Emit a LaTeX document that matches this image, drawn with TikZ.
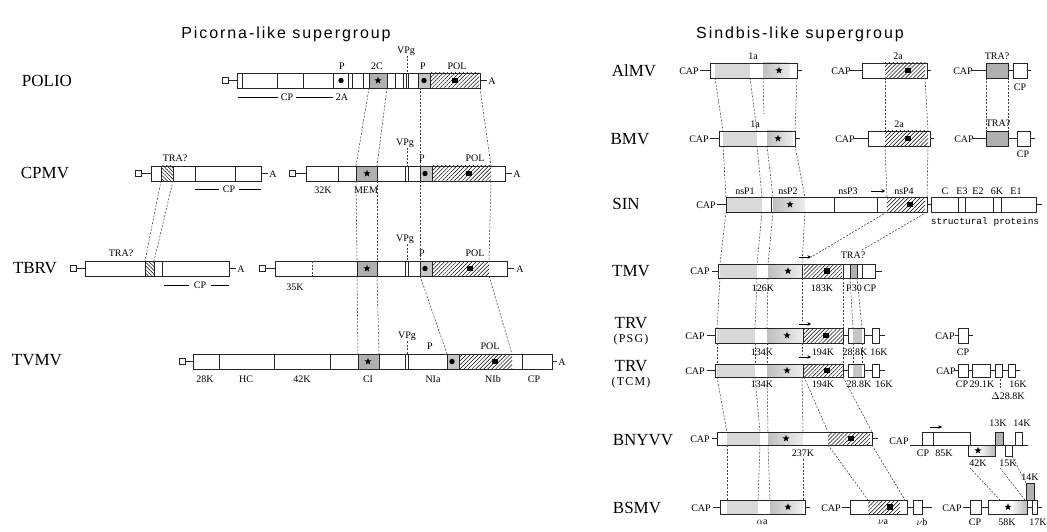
\documentclass[tikz,border=0pt]{standalone}
\usepackage{fontspec}
\setmainfont{Liberation Serif}
\setsansfont{Liberation Sans}
\setmonofont{Liberation Mono}
\usetikzlibrary{patterns.meta,shapes.geometric,arrows.meta}
\newcounter{tn}
\newcounter{cnn}
\newcommand\lb[3]{\stepcounter{tn}\node[lbl] (t\thetn) at (#1,#2) {#3};}
\newcommand\nm[3]{\stepcounter{tn}\node[nmf] (t\thetn) at (#1,#2) {#3};}
\newcommand\hl[3]{\draw[gb] (#1,#3)--(#2,#3);}
\newcommand\bx[4]{\draw[gb] (#1,#3) rectangle (#2,#4);}
\newcommand\vls[3]{\foreach \xx in {#3} {\draw[gb] (\xx,#1)--(\xx,#2);}}
\newcommand\fr[5]{\fill[#1] (#2,#4) rectangle (#3,#5);}
\newcommand\cs[2]{\draw[gb,fill=white] (#1-3,#2-3) rectangle (#1+3,#2+3);}
\newcommand\bd[2]{\fill (#1,#2) circle (2.7);}
\newcommand\bs[2]{\fill (#1-2.7,#2-2.7) rectangle (#1+2.7,#2+2.7);}
\newcommand\st[2]{\stepcounter{tn}\node[star,star points=5,star point ratio=2.4,fill=black,inner sep=0pt,minimum size=7.5pt] (t\thetn) at (#1,#2) {};}
\newcommand\cn[2]{\stepcounter{cnn}\coordinate (cs\thecnn) at (#1);\coordinate (ce\thecnn) at (#2);\draw[conn] (cs\thecnn) -- (ce\thecnn);}
\newcommand\arr[3]{\stepcounter{cnn}\coordinate (as\thecnn) at (#1,#3);\coordinate (ae\thecnn) at (#2,#3);\draw[line width=0.7pt,-{Stealth[length=3.5pt,width=3.5pt]}] (as\thecnn)--(ae\thecnn);}
\begin{document}
\begin{tikzpicture}[x=1pt,y=-1pt,
 gb/.style={draw=black!85,line width=0.7pt},
 conn/.style={draw=black!75,line width=0.55pt,dash pattern=on 2pt off 1.5pt},
 lbl/.style={font=\fontsize{10}{11}\selectfont,inner sep=0pt},
 nmf/.style={font=\fontsize{17}{18}\selectfont,inner sep=0pt},
 ttl/.style={font=\sffamily\fontsize{16}{18}\selectfont\addfontfeature{LetterSpace=12},inner sep=0pt},
 hatch/.style={pattern={Lines[angle=45,distance=2.8pt,line width=0.5pt]}},
 bhatch/.style={pattern={Lines[angle=-45,distance=2.6pt,line width=0.5pt]}},
 dkf/.style={fill=gray!62}, mdf/.style={fill=gray!45}, ltf/.style={fill=gray!30},
 grf/.style={left color=gray!50,right color=gray!14},
 rgf/.style={left color=white,right color=gray!55}]
\useasboundingbox (0,0) rectangle (1047,532);
% titles
\node[ttl] (title1) at (286,34) {Picorna-like supergroup};
\node[ttl] (title2) at (800,34) {Sindbis-like supergroup};
%================ LEFT ================
% POLIO
\nm{47}{81}{POLIO}
\cs{225}{80.5}\hl{228}{237}{80.5}
\fr{dkf}{369}{387}{73}{88}\fr{mdf}{418}{430}{73}{88}\fr{hatch}{430}{479}{73}{88}
\bx{237}{480}{73}{88}
\vls{73}{88}{242,277,303,333,348,352,363,369,387,395,403,406,408,418,430}
\bd{341}{80.5}\st{378}{80.5}\bd{424}{80.5}\bs{455}{80.5}
\hl{480}{487}{80.5}\lb{492}{81}{A}
\lb{342}{66}{P}\lb{377}{66}{2C}\lb{423}{66}{P}\lb{457}{66}{POL}\lb{406}{51}{VPg}
\cn{407,56}{407,73}
\draw[line width=0.6pt] (238,97)--(278,97);\lb{287}{97}{CP}\draw[line width=0.6pt] (296,97)--(333,97);\lb{342}{97}{2A}
% CPMV
\nm{45}{173}{CPMV}
\cs{138.5}{173.5}\hl{141.5}{151}{173.5}
\fr{bhatch}{161}{173}{166}{181}
\bx{151}{261}{166}{181}
\vls{166}{181}{161,173,195,235}
\hl{261}{268}{173.5}\lb{273}{174}{A}
\lb{175}{158}{TRA?}
\draw[line width=0.6pt] (195,189)--(219,189);\lb{229}{189}{CP}\draw[line width=0.6pt] (239,189)--(261,189);
\cs{292}{173.5}\hl{295}{306}{173.5}
\fr{dkf}{356}{377}{166}{181}\fr{mdf}{420}{432}{166}{181}\fr{hatch}{432}{491}{166}{181}
\bx{306}{505}{166}{181}
\vls{166}{181}{338,356,377,405,408,420,432}
\st{367}{173.5}\bd{425}{173.5}\bs{469}{173.5}
\hl{505}{512}{173.5}\lb{517}{174}{A}
\lb{323}{190}{32K}\lb{366}{190}{MEM}\lb{405}{143}{VPg}\cn{407,148}{407,166}\lb{422}{158}{P}\lb{475}{158}{POL}
% TBRV
\nm{35}{268}{TBRV}
\cs{73}{268.5}\hl{76}{85}{268.5}
\fr{bhatch}{145}{154}{261}{276}
\bx{85}{229}{261}{276}
\vls{261}{276}{145,154,162.5}
\hl{229}{236}{268.5}\lb{241}{269}{A}
\lb{121}{253}{TRA?}
\draw[line width=0.6pt] (164,285)--(189,285);\lb{200}{285}{CP}\draw[line width=0.6pt] (211,285)--(229,285);
\cs{262}{268.5}\hl{265}{275}{268.5}
\fr{dkf}{357}{377}{261}{276}\fr{mdf}{420}{432}{261}{276}\fr{hatch}{432}{489}{261}{276}
\bx{275}{507}{261}{276}
\cn{312,261}{312,276}
\vls{261}{276}{357,377,405,408,420,432}
\st{367}{268.5}\bd{425}{268.5}\bs{470}{268.5}
\hl{507}{514}{268.5}\lb{520}{269}{A}
\lb{295}{287}{35K}\lb{405}{239}{VPg}\cn{407,244}{407,261}\lb{422}{253}{P}\lb{475}{253}{POL}
% TVMV
\nm{37}{360}{TVMV}
\cs{182}{361.5}\hl{185}{193}{361.5}
\fr{dkf}{358}{379}{354}{369}\fr{mdf}{447}{459}{354}{369}\fr{hatch}{459}{512}{354}{369}
\bx{193}{552}{354}{369}
\vls{354}{369}{219,274,330,358,379,405,408,447,459,522}
\st{368}{361.5}\bd{452}{361.5}\bs{495}{361.5}
\hl{552}{557}{361.5}\lb{562}{362}{A}
\lb{205}{379}{28K}\lb{246}{379}{HC}\lb{302}{379}{42K}\lb{368}{379}{CI}\lb{433}{379}{NIa}\lb{493}{379}{NIb}\lb{534}{379}{CP}
\lb{407}{336}{VPg}\cn{407,341}{407,354}\lb{430}{346}{P}\lb{490}{346}{POL}
% left connectors
\cn{369,88}{356,166}\cn{387,88}{377,166}\cn{420,88}{420,166}\cn{480,88}{491,166}
\cn{161,181}{145,261}\cn{173,181}{154,261}\cn{356,181}{357,261}\cn{377,181}{377,261}\cn{420,181}{420,261}\cn{491,181}{489,261}
\cn{357,276}{358,354}\cn{377,276}{379,354}\cn{420,276}{447,354}\cn{489,276}{512,354}
%================ RIGHT ================
% AlMV
\nm{634}{71}{AlMV}
\lb{689}{71}{CAP}\hl{700}{710}{70.5}
\fr{ltf}{715}{750}{63}{78}\fr{grf}{763}{790}{63}{78}
\bx{710}{797}{63}{78}\st{779}{70.5}\hl{797}{802}{70.5}\lb{753}{56}{1a}
\lb{841}{71}{CAP}\hl{850}{862}{70.5}
\fr{hatch}{885}{925}{63}{78}\bx{862}{927}{63}{78}\bs{908}{70.5}\hl{927}{931}{70.5}\lb{898}{56}{2a}
\lb{963}{71}{CAP}\hl{972}{986}{70.5}
\fr{dkf}{986}{1008}{63}{78}\bx{986}{1008}{63}{78}\hl{1008}{1013}{70.5}\bx{1013}{1027}{63}{78}\hl{1027}{1031}{70.5}
\lb{997}{56}{TRA?}\lb{1020}{87}{CP}
% BMV
\nm{630}{139}{BMV}
\lb{699}{139}{CAP}\hl{710}{719}{138.5}
\fr{ltf}{723}{757}{131}{146}\fr{grf}{767}{793}{131}{146}
\bx{719}{795}{131}{146}\st{778}{138.5}\hl{795}{800}{138.5}\lb{755}{124}{1a}
\lb{845}{139}{CAP}\hl{853}{868}{138.5}
\fr{hatch}{885}{928}{131}{146}\bx{868}{930}{131}{146}\bs{908}{138.5}\hl{930}{934}{138.5}\lb{899}{124}{2a}
\lb{964}{139}{CAP}\hl{973}{986}{138.5}
\fr{dkf}{986}{1008}{131}{146}\bx{986}{1008}{131}{146}\hl{1008}{1017}{138.5}\bx{1017}{1030}{131}{146}\hl{1030}{1035}{138.5}
\lb{998}{123}{TRA?}\lb{1023}{154}{CP}
% SIN
\nm{626}{204}{SIN}
\lb{706}{205}{CAP}\hl{717}{726}{204.5}
\fr{ltf}{726}{762}{197}{212}\fr{grf}{773}{805}{197}{212}\fr{hatch}{887}{925}{197}{212}
\bx{726}{927}{197}{212}
\vls{197}{212}{771,834,877}
\st{790}{204.5}\bs{910}{204.5}
\hl{927}{931}{204.5}\bx{931}{1036}{197}{212}\vls{197}{212}{958,965,993,1001}\hl{1036}{1042}{204.5}
\lb{745}{191}{nsP1}\lb{788}{191}{nsP2}\lb{848}{191}{nsP3}\arr{871}{885}{191}\lb{904}{191}{nsP4}
\lb{945}{191}{C}\lb{962}{191}{E3}\lb{978}{191}{E2}\lb{997}{191}{6K}\lb{1016}{191}{E1}
\stepcounter{tn}\node[lbl,font=\ttfamily\fontsize{9.5}{10}\selectfont] (t\thetn) at (985,222) {structural proteins};
% TMV
\nm{631}{271}{TMV}
\lb{700}{271}{CAP}\hl{712}{718}{271}
\fr{ltf}{720}{757}{264}{278}\fr{grf}{768}{802}{264}{278}\fr{hatch}{804}{842}{264}{278}\fr{dkf}{850}{857}{264}{278}
\bx{718}{875}{264}{278}
\vls{264}{278}{802,843,850,857,862}
\st{788}{271}\bs{827}{271}\hl{875}{882}{271}
\arr{799}{811}{257}
\lb{763}{288}{126K}\lb{822}{288}{183K}\lb{854}{288}{P30}\lb{870}{288}{CP}\lb{853}{255}{TRA?}
% TRV (PSG)
\nm{631}{323}{TRV}
\stepcounter{tn}\node[nmf,font=\fontsize{12}{13}\selectfont\addfontfeature{LetterSpace=10}] (t\thetn) at (631,340) {(PSG)};
\lb{695}{336}{CAP}\hl{707}{715}{335.5}
\fr{ltf}{717}{755}{328}{343}\fr{grf}{767}{803}{328}{343}\fr{hatch}{804}{843}{328}{343}
\bx{715}{843}{328}{343}\vls{328}{343}{803}
\st{787}{335.5}\bs{826}{335.5}
\hl{843}{848}{335.5}\fr{mdf}{853}{862}{328}{343}\bx{848}{864}{328}{343}\hl{864}{872}{335.5}\bx{872}{879}{328}{343}\hl{879}{885}{335.5}
\arr{799}{811}{324}
\lb{762}{352}{134K}\lb{823}{352}{194K}\lb{855}{352}{28.8K}\lb{879}{352}{16K}
\lb{945}{336}{CAP}\hl{955}{958}{335.5}\bx{958}{968}{328}{343}\hl{968}{973}{335.5}\lb{963}{352}{CP}
% TRV (TCM)
\nm{631}{366}{TRV}
\stepcounter{tn}\node[nmf,font=\fontsize{12}{13}\selectfont\addfontfeature{LetterSpace=10}] (t\thetn) at (631,383) {(TCM)};
\lb{695}{371}{CAP}\hl{707}{715}{370.5}
\fr{ltf}{717}{755}{364}{377}\fr{grf}{767}{803}{364}{377}\fr{hatch}{804}{843}{364}{377}
\bx{715}{843}{364}{377}\vls{364}{377}{803}
\st{787}{370.5}\bs{827}{370.5}
\hl{843}{848}{370.5}\fr{mdf}{853}{862}{364}{377}\bx{848}{864}{364}{377}\hl{864}{872}{370.5}\bx{872}{879}{364}{377}\hl{879}{885}{370.5}
\arr{799}{811}{357}
\lb{762}{384}{134K}\lb{823}{384}{194K}\lb{859}{384}{28.8K}\lb{884}{384}{16K}
\lb{946}{371}{CAP}\hl{955}{958}{370.5}\bx{958}{968}{364}{377}\hl{968}{972}{370.5}\bx{972}{990}{364}{377}\hl{990}{995}{370.5}\bx{995}{1002}{364}{377}\hl{1002}{1008}{370.5}\bx{1008}{1015}{364}{377}\hl{1015}{1020}{370.5}
\lb{962}{384}{CP}\lb{982}{384}{29.1K}\cn{1000,379}{1000,389}\lb{1018}{384}{16K}\lb{1008}{396}{$\Delta$28.8K}
% BNYVV
\nm{643}{440}{BNYVV}
\lb{700}{439}{CAP}\hl{712}{717}{438.5}
\fr{ltf}{727}{760}{432}{445}\fr{grf}{768}{803}{432}{445}\fr{hatch}{828}{870}{432}{445}
\bx{717}{872}{432}{445}\st{786}{438.5}\bs{851}{438.5}\hl{872}{878}{438.5}
\lb{803}{453}{237K}
\lb{899}{441}{CAP}\hl{910}{1028}{445}
\bx{922}{970}{432}{445}\vls{432}{445}{933}\arr{930}{942}{427}
\fr{rgf}{978}{995}{445}{456}\bx{968}{995}{445}{456}\st{978}{450.5}
\fr{dkf}{995}{1003}{432}{445}\bx{995}{1003}{432}{445}
\bx{1005}{1012}{445}{456}
\bx{1015}{1022}{432}{445}
\lb{998}{423}{13K}\lb{1022}{423}{14K}\lb{923}{453}{CP}\lb{944}{453}{85K}\lb{978}{463}{42K}\lb{1008}{463}{15K}
% BSMV
\nm{637}{508}{BSMV}
\lb{701}{508}{CAP}\hl{713}{720}{507}
\fr{ltf}{727}{758}{500}{514}\fr{grf}{770}{803}{500}{514}
\bx{720}{805}{500}{514}\st{788}{507}\hl{805}{810}{507}\lb{762}{522}{$\alpha$a}
\lb{831}{508}{CAP}\hl{842}{850}{507}
\fr{hatch}{868}{900}{500}{514}\bx{850}{907}{500}{514}\bs{890}{507}\hl{907}{913}{507}\bx{913}{922}{500}{514}\hl{922}{932}{507}
\lb{883}{522}{$\nu$a}\lb{922}{522}{$\nu$b}
\lb{952}{508}{CAP}\hl{963}{970}{507}
\bx{970}{981}{500}{514}\hl{981}{988}{507}
\fr{rgf}{1010}{1027}{500}{514}\bx{988}{1027}{500}{514}\st{1008}{507}
\fr{dkf}{1026}{1034}{483}{500}\bx{1026}{1034}{483}{500}
\hl{1027}{1032}{507}\bx{1032}{1037}{500}{514}\hl{1037}{1042}{507}
\lb{975}{522}{CP}\lb{1007}{522}{58K}\lb{1038}{522}{17K}\lb{1030}{477}{14K}
% right connectors
\cn{715,78}{723,131}\cn{750,78}{757,131}\cn{763,78}{764,114}\cn{797,78}{795,131}\cn{885,78}{885,131}\cn{925,78}{928,131}\cn{986,78}{986,131}\cn{1008,78}{1008,131}
\cn{723,146}{726,197}\cn{757,146}{762,197}\cn{767,146}{773,197}\cn{795,146}{805,197}\cn{885,146}{887,197}\cn{928,146}{927,197}
\cn{726,212}{720,264}\cn{762,212}{757,264}\cn{773,212}{768,264}\cn{805,212}{802,264}\cn{887,212}{811,257}\cn{927,212}{862,250}
\cn{720,278}{717,328}\cn{757,278}{755,328}\cn{768,278}{767,328}\cn{802,278}{802,321}\cn{843,278}{843,328}\cn{850,278}{853,328}\cn{857,278}{862,328}
\cn{717,343}{717,364}\cn{755,343}{755,364}\cn{767,343}{767,364}\cn{802,343}{802,354}\cn{843,343}{843,364}\cn{853,343}{853,364}\cn{862,343}{862,364}
\cn{717,377}{727,432}\cn{755,377}{760,432}\cn{767,377}{768,432}\cn{802,377}{803,432}\cn{804,377}{828,432}\cn{843,377}{872,432}
\cn{727,445}{727,500}\cn{760,445}{758,500}\cn{768,445}{770,500}\cn{803,459}{803,500}\cn{828,445}{868,500}\cn{872,445}{905,500}
\cn{970,468}{1000,500}\cn{1000,468}{1025,500}\cn{1012,456}{1026,483}
\end{tikzpicture}
\end{document}
